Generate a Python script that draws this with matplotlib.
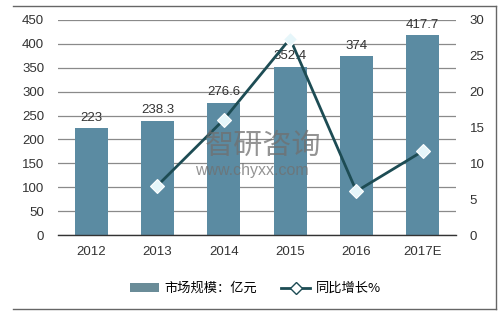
import matplotlib
matplotlib.use("Agg")
import matplotlib.pyplot as plt
from matplotlib.lines import Line2D
from matplotlib.patches import Patch

plt.rcParams['font.family'] = ['Liberation Sans', 'Noto Sans CJK SC', 'DejaVu Sans']

years = ["2012", "2013", "2014", "2015", "2016", "2017E"]
market = [223, 238.3, 276.6, 352.4, 374, 417.7]
growth_years = ["2013", "2014", "2015", "2016", "2017E"]
growth = [6.9, 16.1, 27.4, 6.1, 11.7]
left_ticks = [0, 50, 100, 150, 200, 250, 300, 350, 400, 450]
right_ticks = [0, 5, 10, 15, 20, 25, 30]

bar_color = "#5b8ba2"
line_color = "#1d4c54"
marker_face = "#e6f6fa"
text_color = "#333333"

fig = plt.figure(figsize=(5.01, 3.20), dpi=100)
ax = fig.add_axes([0.1158, 0.2656, 0.7942, 0.6719])
ax.set_xlim(-0.5, len(years) - 0.5)
ax.set_ylim(0, 450)
ax.set_yticks(left_ticks)
ax.yaxis.grid(True, color="#8a8a8a", linewidth=0.9)
ax.set_axisbelow(True)
xs = list(range(len(years)))
bars = ax.bar(xs, market, width=0.5, color=bar_color, zorder=2)
for x, v in zip(xs, market):
    ax.text(x, v + 10, f"{v:g}", ha="center", va="bottom", fontsize=9.5, color=text_color, zorder=3)
ax.set_xticks(xs)
ax.set_xticklabels(years)
for s in ["top", "right", "left"]:
    ax.spines[s].set_visible(False)
ax.spines["bottom"].set_color("#333333")
ax.spines["bottom"].set_linewidth(1.0)
ax.tick_params(axis="both", length=0, labelsize=9.5, colors=text_color)
ax.tick_params(axis="y", pad=10)
ax.tick_params(axis="x", pad=8)

ax2 = ax.twinx()
ax2.set_ylim(0, 30)
ax2.set_yticks(right_ticks)
gx = [years.index(y) for y in growth_years]
ax2.plot(gx, growth, color=line_color, linewidth=2, marker="D", markersize=7,
         markerfacecolor=marker_face, markeredgecolor="white", markeredgewidth=0.8, zorder=4)
for s in ["top", "right", "left", "bottom"]:
    ax2.spines[s].set_visible(False)
ax2.tick_params(axis="y", length=0, labelsize=9.5, colors=text_color, pad=10)

# watermark
fig.text(0.525, 0.545, "智研咨询", fontsize=21, color="#707070", alpha=0.75,
         ha="center", va="center", family=["Noto Sans CJK SC"], zorder=10)
fig.text(0.503, 0.468, "www.chyxx.com", fontsize=11.5, color="#707070", alpha=0.75,
         ha="center", va="center", zorder=10)

handles = [Patch(facecolor="#6a8c98", edgecolor="none"),
           Line2D([0], [0], color=line_color, linewidth=2, marker="D", markersize=6,
                  markerfacecolor="white", markeredgecolor=line_color, markeredgewidth=1)]
fig.legend(handles, ["市场规模：亿元", "同比增长%"], loc="center", bbox_to_anchor=(0.51, 0.098),
           ncol=2, frameon=False, fontsize=9.5, handlelength=2.2, columnspacing=1.8,
           handletextpad=0.4, prop={"family": ["Noto Sans CJK SC"], "size": 9.5})

# figure border lines
fig.add_artist(Line2D([0.026, 0.990], [0.981, 0.981], color="#666666", linewidth=1))
fig.add_artist(Line2D([0.990, 0.990], [0.034, 0.981], color="#666666", linewidth=1))
fig.add_artist(Line2D([0.026, 0.990], [0.034, 0.034], color="#666666", linewidth=1))

fig.savefig("out.png", dpi=100, facecolor="white")
